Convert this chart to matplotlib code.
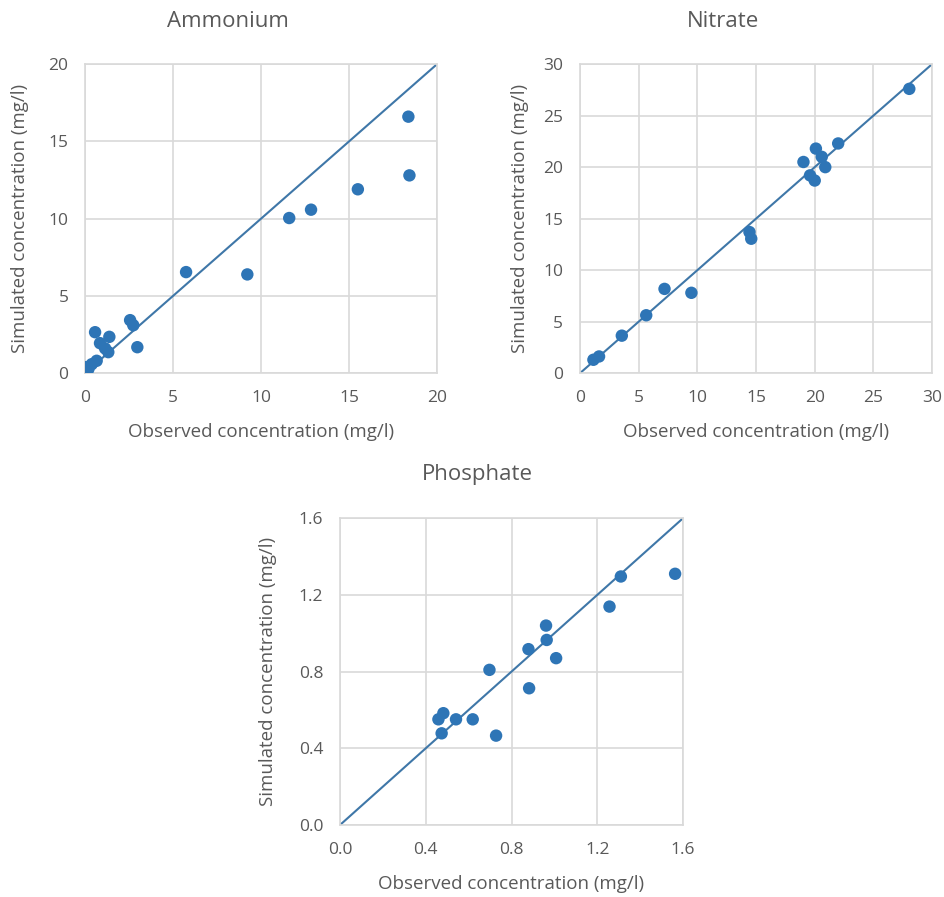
import matplotlib

matplotlib.use("Agg")
import matplotlib.pyplot as plt

plt.rcParams["font.family"] = ["Open Sans", "DejaVu Sans"]

# Ammonium (mg/l)
ammonium_obs = [18.37, 18.43, 15.5, 12.84, 11.6, 5.74, 9.22, 2.56, 2.74, 2.97,
                0.57, 1.38, 0.85, 1.14, 1.32, 0.66, 0.38, 0.0, 0.19]
ammonium_sim = [16.6, 12.8, 11.9, 10.58, 10.04, 6.54, 6.39, 3.43, 3.1, 1.68,
                2.65, 2.35, 1.94, 1.6, 1.36, 0.8, 0.58, 0.39, 0.26]

# Nitrate (mg/l)
nitrate_obs = [28.06, 22.0, 20.1, 19.04, 20.6, 20.9, 19.6, 20.0, 14.44, 14.59,
               7.2, 9.49, 5.64, 3.56, 1.62, 1.14]
nitrate_sim = [27.6, 22.3, 21.8, 20.5, 21.0, 20.0, 19.2, 18.7, 13.7, 13.05,
               8.18, 7.8, 5.62, 3.64, 1.62, 1.3]

# Phosphate (mg/l)
phosphate_obs = [1.563, 1.31, 1.257, 0.961, 0.964, 0.879, 1.008, 0.697, 0.882,
                 0.482, 0.459, 0.541, 0.619, 0.474, 0.728]
phosphate_sim = [1.31, 1.296, 1.139, 1.04, 0.965, 0.917, 0.87, 0.809, 0.713,
                 0.583, 0.551, 0.551, 0.551, 0.478, 0.466]

ammonium_ticks = [0, 5, 10, 15, 20]
nitrate_ticks = [0, 5, 10, 15, 20, 25, 30]
phosphate_ticks = [0.0, 0.4, 0.8, 1.2, 1.6]

TEXT = "#595959"
GRID = "#d9d9d9"
DOT = "#2e75b6"
LINE = "#3f77a8"


def draw_panel(ax, obs, sim, ticks, fmt, ylab_x, xlab_y):
    top = ticks[-1]
    ax.plot([0, top], [0, top], color=LINE, lw=1.5, zorder=2)
    ax.scatter(obs, sim, s=80, color=DOT, edgecolors="none", zorder=3)
    ax.set_xlim(0, top)
    ax.set_ylim(0, top)
    ax.set_xticks(ticks)
    ax.set_yticks(ticks)
    ax.set_xticklabels([fmt.format(t) for t in ticks])
    ax.set_yticklabels([fmt.format(t) for t in ticks])
    ax.grid(True, color=GRID, lw=1.2, zorder=0)
    ax.set_axisbelow(True)
    for spine in ax.spines.values():
        spine.set_color(GRID)
        spine.set_linewidth(1.2)
    ax.tick_params(length=0, pad=12, labelsize=12.5, colors=TEXT)
    ax.set_xlabel("Observed concentration (mg/l)", fontsize=13.5, color=TEXT)
    ax.set_ylabel("Simulated concentration (mg/l)", fontsize=13.5, color=TEXT)
    ax.xaxis.set_label_coords(0.5, xlab_y)
    ax.yaxis.set_label_coords(ylab_x, 0.5)


fig = plt.figure(figsize=(9.45, 8.97), dpi=100)

ax1 = fig.add_axes([0.090, 0.584, 0.3725, 0.3445])
draw_panel(ax1, ammonium_obs, ammonium_sim, ammonium_ticks, "{:d}", -0.159, -0.16)

ax2 = fig.add_axes([0.6138, 0.584, 0.3725, 0.3445])
draw_panel(ax2, nitrate_obs, nitrate_sim, nitrate_ticks, "{:d}", -0.145, -0.16)

ax3 = fig.add_axes([0.3598, 0.0803, 0.363, 0.342])
draw_panel(ax3, phosphate_obs, phosphate_sim, phosphate_ticks, "{:.1f}", -0.184, -0.163)

fig.text(0.241, 0.9755, "Ammonium", ha="center", va="center", fontsize=16, color=TEXT)
fig.text(0.765, 0.9755, "Nitrate", ha="center", va="center", fontsize=16, color=TEXT)
fig.text(0.505, 0.4705, "Phosphate", ha="center", va="center", fontsize=16, color=TEXT)

fig.savefig("out.png", dpi=100, facecolor="white")
